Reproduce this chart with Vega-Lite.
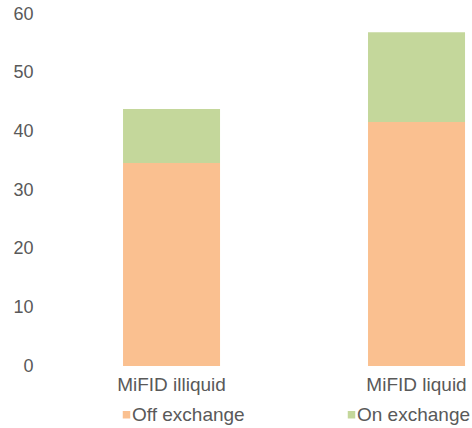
{
  "$schema": "https://vega.github.io/schema/vega-lite/v6.json",
  "autosize": {"type": "none"},
  "width": 423,
  "height": 352,
  "padding": {"left": 49, "top": 14, "right": 0, "bottom": 62},
  "background": "white",
  "config": {
    "view": {"stroke": null},
    "font": "Liberation Sans",
    "axis": {"labelColor": "#595959", "labelFontSize": 18, "grid": false, "domain": false, "ticks": false, "title": null},
    "legend": {"labelColor": "#595959", "labelFontSize": 19}
  },
  "data": {
    "values": [
      {"category": "MiFID illiquid", "type": "Off exchange", "value": 34.6},
      {"category": "MiFID illiquid", "type": "On exchange", "value": 9.2},
      {"category": "MiFID liquid", "type": "Off exchange", "value": 41.6},
      {"category": "MiFID liquid", "type": "On exchange", "value": 15.3}
    ]
  },
  "mark": {"type": "bar"},
  "encoding": {
    "x": {
      "field": "category",
      "type": "nominal",
      "scale": {"paddingInner": 0.604, "paddingOuter": 0.1653, "align": 0.914},
      "axis": {"labelAngle": 0, "labelPadding": 9, "labelFontSize": 19}
    },
    "y": {
      "field": "value",
      "type": "quantitative",
      "stack": "zero",
      "scale": {"domain": [0, 60], "nice": false},
      "axis": {"values": [0, 10, 20, 30, 40, 50, 60], "labelPadding": 16}
    },
    "color": {
      "field": "type",
      "type": "nominal",
      "scale": {"domain": ["Off exchange", "On exchange"], "range": ["#FAC090", "#C4D79B"]},
      "legend": {
        "title": null,
        "orient": "none",
        "direction": "horizontal",
        "legendX": 68,
        "legendY": 391,
        "symbolType": "square",
        "symbolSize": 56,
        "symbolStrokeWidth": 0,
        "labelOffset": -4,
        "columnPadding": 97
      }
    },
    "order": {"field": "type", "sort": "ascending"}
  }
}
